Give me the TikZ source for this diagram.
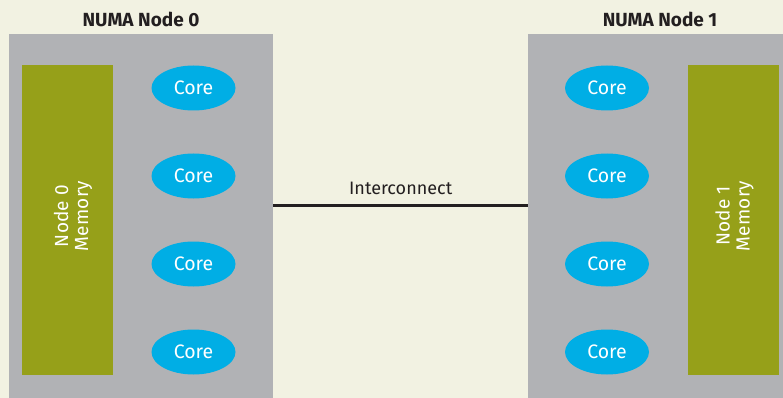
\documentclass[tikz,border=0pt]{standalone}
\usepackage{fontspec}
\setmainfont{Fira Sans}
\usetikzlibrary{shapes.geometric}
\definecolor{bgc}{HTML}{F2F2E2}
\definecolor{boxc}{HTML}{B1B2B5}
\definecolor{memc}{HTML}{96A019}
\definecolor{corec}{HTML}{00AEE5}
\definecolor{txtc}{HTML}{231F20}
\tikzset{
  numabox/.style={fill=boxc, draw=none, inner sep=0pt, minimum width=#1, anchor=north west},
  mem/.style={fill=memc, draw=none, minimum width=91pt, minimum height=310pt, inner sep=0pt},
  memtext/.style={text=white, font=\fontsize{19}{20}\selectfont\addfontfeatures{LetterSpace=1}, align=center, rotate=90},
  core/.style={ellipse, fill=corec, draw=none, minimum width=84pt, minimum height=45pt, inner sep=0pt, text=white, font=\fontsize{19.5}{20}\selectfont},
  title/.style={text=txtc, font=\bfseries\fontsize{19}{20}\selectfont},
  link/.style={draw=txtc, line width=3.5pt}
}
\begin{document}
\begin{tikzpicture}[x=1pt,y=-1pt]
\useasboundingbox (0,0) rectangle (783,398);
\fill[bgc] (0,0) rectangle (783,398);
% boxes
\node[numabox=264pt, minimum height=364pt] (n0) at (9,34) {};
\node[numabox=255pt, minimum height=364pt] (n1) at (528,34) {};
\node[title] (t0) at (141,19) {NUMA Node 0};
\node[title] (t1) at (660,19) {NUMA Node 1};
% memory
\node[mem] (m0) at (67.5,220) {};
\node[memtext] (m0t) at (73,216) {Node 0\\Memory};
\node[mem] (m1) at (733.5,220) {};
\node[memtext] (m1t) at (734.5,216) {Node 1\\Memory};
% cores
\foreach \i/\y in {1/88,2/176,3/264,4/352}{
  \node[core] (a\i) at (193.5,\y) {Core};
  \node[core] (b\i) at (607,\y) {Core};
}
% interconnect
\draw[link] (n0.east |- 0,205.5) -- (n1.west |- 0,205.5) node[midway, above=6pt, text=txtc, font=\fontsize{18}{19}\selectfont] (ic) {Interconnect};
\end{tikzpicture}
\end{document}
